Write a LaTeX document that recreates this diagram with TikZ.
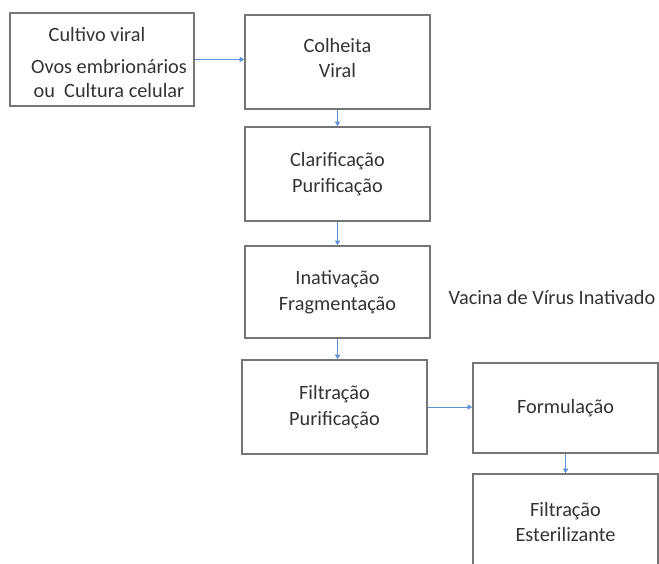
\documentclass[tikz,border=0pt]{standalone}
\usepackage{fontspec}
\setmainfont{Carlito}
\usetikzlibrary{arrows.meta}

\definecolor{boxgray}{HTML}{767676}
\definecolor{txtgray}{HTML}{333333}
\definecolor{arrowblue}{HTML}{5B8FD6}

\begin{document}
\begin{tikzpicture}[x=1pt, y=-1pt,
    every node/.style={text=txtgray, font=\fontsize{20.3}{25.5}\selectfont, align=center},
    stage/.style={rectangle, draw=boxgray, line width=1.6pt, minimum width=185pt, inner sep=0pt},
    flow/.style={draw=arrowblue, line width=0.8pt, -{Triangle[width=5pt,length=4.5pt]}}]
            \useasboundingbox (0,0) rectangle (659,564);
            \clip (0,0) rectangle (659,564);
            \node[stage, minimum width=184pt, minimum height=93pt] (cultivo) at (102,59.5) {};
            \node (cultivotxt) at (109,62.5) {Cultivo viral\hspace*{24pt}\\[7pt]Ovos embrionários\\[-2pt]ou\ \ Cultura celular};
            \node[stage, minimum height=94pt] (colheita) at (337.5,62) {};
            \node (colheitatxt) at (337.5,58) {Colheita\\Viral};
            \node[stage, minimum height=94pt] (clarif) at (337.5,174) {Clarificação\\Purificação};
            \node[stage, minimum height=92pt] (inativ) at (337.5,292) {Inativação\\Fragmentação};
            \node[stage, minimum height=94pt] (filtpur) at (334.5,407) {Filtração\\Purificação};
            \node[stage, minimum height=90pt] (formul) at (565.5,408) {Formulação};
            \node[stage, minimum height=96pt] (esteril) at (565.5,522) {Filtração\\Esterilizante};
            \node (vacina) at (552,298) {Vacina de Vírus Inativado};

            \draw[flow] (cultivo.east) -- (cultivo.east -| colheita.west);
            \draw[flow] (colheita) -- (clarif);
            \draw[flow] (clarif) -- (inativ);
            \draw[flow] (inativ.south) -- (inativ.south |- filtpur.north);
            \draw[flow] (filtpur) -- (filtpur -| formul.west);
            \draw[flow] (formul) -- (esteril);
        \end{tikzpicture}
\end{document}
